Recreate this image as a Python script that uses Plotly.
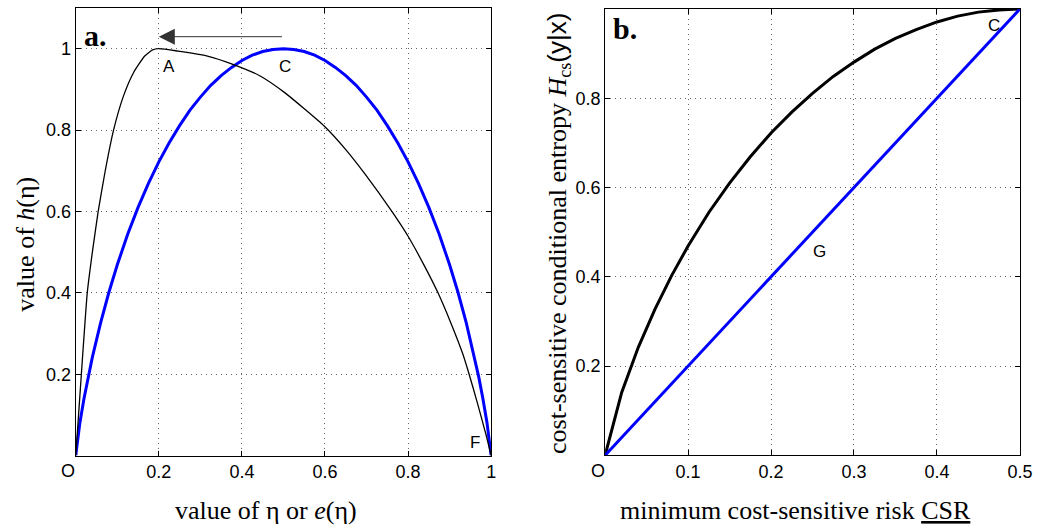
import plotly.graph_objects as go

# ---- panel a data ----
eta = [0, 0.01, 0.02, 0.03, 0.04, 0.06, 0.08, 0.10, 0.125, 0.15, 0.175, 0.20, 0.225, 0.25, 0.275,
       0.30, 0.325, 0.35, 0.375, 0.40, 0.425, 0.45, 0.475, 0.50,
       0.525, 0.55, 0.575, 0.60, 0.625, 0.65, 0.675, 0.70, 0.725, 0.75, 0.775, 0.80, 0.825,
       0.85, 0.875, 0.90, 0.92, 0.94, 0.96, 0.97, 0.98, 0.99, 1.0]
h_eta = [0, 0.081, 0.141, 0.194, 0.242, 0.327, 0.402, 0.469, 0.544, 0.610, 0.669, 0.722, 0.769, 0.811, 0.849,
         0.881, 0.910, 0.934, 0.954, 0.971, 0.984, 0.993, 0.998, 1.0,
         0.998, 0.993, 0.984, 0.971, 0.954, 0.934, 0.910, 0.881, 0.849, 0.811, 0.769, 0.722, 0.669,
         0.610, 0.544, 0.469, 0.402, 0.327, 0.242, 0.194, 0.141, 0.081, 0]

e_eta = [0, 0.0135, 0.0277, 0.040, 0.054, 0.071, 0.091, 0.115, 0.139, 0.166, 0.185, 0.2, 0.246, 0.317,
         0.38, 0.444, 0.503, 0.598, 0.650, 0.697, 0.761, 0.800, 0.840, 0.872, 0.903, 0.931,
         0.947, 0.967, 0.988, 1.0]
h_e = [0, 0.2, 0.4, 0.5, 0.6, 0.7, 0.8, 0.884, 0.941, 0.982, 0.997, 1.0, 0.994, 0.982,
       0.961, 0.933, 0.892, 0.81, 0.752, 0.691, 0.6, 0.539, 0.465, 0.4, 0.326, 0.252,
       0.2, 0.129, 0.05, 0]

# ---- panel b data ----
csr = [0, 0.02, 0.04, 0.06, 0.08, 0.10, 0.125, 0.15, 0.175, 0.20, 0.225, 0.25, 0.275, 0.30, 0.325,
       0.35, 0.375, 0.40, 0.425, 0.45, 0.475, 0.50]
h_cs = [0, 0.141, 0.242, 0.327, 0.402, 0.469, 0.544, 0.610, 0.669, 0.722, 0.769, 0.811, 0.849, 0.881, 0.910,
        0.934, 0.954, 0.971, 0.984, 0.993, 0.998, 1.0]
g_x = [0, 0.5]
g_y = [0, 1.0]

tick_a_x = [0, 0.2, 0.4, 0.6, 0.8, 1]
tick_a_x_txt = ["", "0.2", "0.4", "0.6", "0.8", "1"]
tick_y = [0.2, 0.4, 0.6, 0.8, 1]
tick_y_txt = ["0.2", "0.4", "0.6", "0.8", "1"]
tick_b_x = [0, 0.1, 0.2, 0.3, 0.4, 0.5]
tick_b_x_txt = ["", "0.1", "0.2", "0.3", "0.4", "0.5"]

W, H = 1050, 529
SANS = "Liberation Sans, Arial, sans-serif"
SERIF = "Liberation Serif, Times New Roman, serif"

fig = go.Figure()
fig.add_trace(go.Scatter(x=eta, y=h_eta, mode="lines", line=dict(color="#0000FF", width=3),
                         xaxis="x", yaxis="y", showlegend=False))
fig.add_trace(go.Scatter(x=e_eta, y=h_e, mode="lines",
                         line=dict(color="black", width=1.3, shape="spline", smoothing=0.5),
                         xaxis="x", yaxis="y", showlegend=False))
fig.add_trace(go.Scatter(x=csr, y=h_cs, mode="lines", line=dict(color="black", width=3),
                         xaxis="x2", yaxis="y2", showlegend=False))
fig.add_trace(go.Scatter(x=g_x, y=g_y, mode="lines", line=dict(color="#0000FF", width=3),
                         xaxis="x2", yaxis="y2", showlegend=False))

ax_common = dict(ticks="inside", ticklen=5, tickcolor="black", showline=True, linecolor="black",
                 linewidth=1.2, mirror="ticks", showgrid=True, gridcolor="#666666", griddash="1px,4px",
                 gridwidth=1, zeroline=False, tickfont=dict(family=SANS, size=18, color="black"),
                 fixedrange=True)

ydom_a = [1 - 455.6 / H, 1 - 8 / H]
ydom_b = [1 - 455.3 / H, 1 - 9 / H]

fig.update_layout(
    width=W, height=H,
    margin=dict(l=0, r=0, t=0, b=0),
    paper_bgcolor="white", plot_bgcolor="white",
    xaxis=dict(domain=[76.7 / W, 497.3 / W], range=[0, 1], tickvals=tick_a_x, ticktext=tick_a_x_txt,
               anchor="y", **ax_common),
    yaxis=dict(domain=ydom_a, range=[0, 1.1], tickvals=tick_y, ticktext=tick_y_txt, anchor="x",
               **ax_common),
    xaxis2=dict(domain=[612.7 / W, 1032.7 / W], range=[0, 0.5], tickvals=tick_b_x, ticktext=tick_b_x_txt,
                anchor="y2", **ax_common),
    yaxis2=dict(domain=ydom_b, range=[0, 1], tickvals=tick_y, ticktext=tick_y_txt, anchor="x2",
                **ax_common),
)

def paper(px, py):
    return px / W, 1 - py / H

anns = []
# axis titles
for txt, (px, py), ang in [
    ("value of η or <i>e</i>(η)", (269, 510), 0),
    ("minimum cost-sensitive risk <u>CSR</u>", (805, 510), 0),
    ("value of <i>h</i>(η)", (26, 244), -90),
    ("cost-sensitive conditional entropy <i>H</i><sub>cs</sub>"
     "<span style=\"font-family:Liberation Sans, Arial\">(y|x)</span>", (565, 234), -90),
]:
    x, y = paper(px, py)
    anns.append(dict(text=txt, x=x, y=y, xref="paper", yref="paper", showarrow=False,
                     xanchor="center", yanchor="middle", textangle=ang,
                     font=dict(family=SERIF, size=26, color="black")))
# panel letters
for txt, (px, py) in [("a.", (97, 36)), ("b.", (633, 29))]:
    x, y = paper(px, py)
    anns.append(dict(text="<b>" + txt + "</b>", x=x, y=y, xref="paper", yref="paper", showarrow=False,
                     xanchor="center", yanchor="middle",
                     font=dict(family=SERIF, size=30, color="black")))
# origin labels
for px in (69, 606):
    x, y = paper(px, 471)
    anns.append(dict(text="O", x=x, y=y, xref="paper", yref="paper", showarrow=False,
                     xanchor="center", yanchor="middle", font=dict(family=SANS, size=18, color="black")))
# point labels
for txt, x, y, xr, yr in [("A", 0.224, 0.956, "x", "y"), ("C", 0.504, 0.956, "x", "y"),
                          ("F", 0.961, 0.031, "x", "y"), ("G", 0.2587, 0.456, "x2", "y2"),
                          ("C", 0.4693, 0.964, "x2", "y2")]:
    anns.append(dict(text=txt, x=x, y=y, xref=xr, yref=yr, showarrow=False,
                     xanchor="center", yanchor="middle", font=dict(family=SANS, size=17, color="black")))
# arrow from C to A
anns.append(dict(x=0.2, y=1.0295, ax=0.5, ay=1.0295, xref="x", yref="y", axref="x", ayref="y",
                 text="", showarrow=True, arrowhead=2, arrowsize=3.2, arrowwidth=1.0,
                 arrowcolor="#333333", standoff=0))
fig.update_layout(annotations=anns)

fig.write_html("out.html")
